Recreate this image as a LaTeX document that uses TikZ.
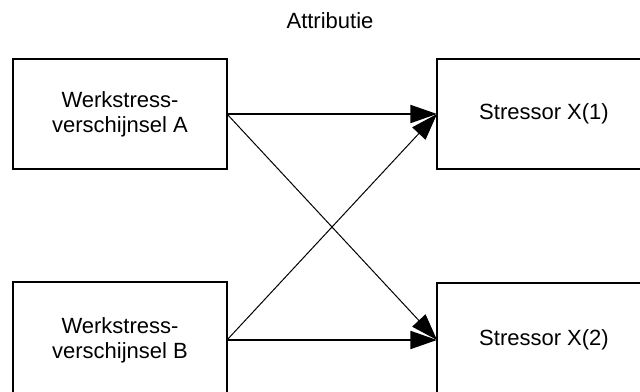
\documentclass[tikz,border=0pt]{standalone}
\usepackage{fontspec}
\setmainfont{Liberation Sans}
\usetikzlibrary{arrows.meta}
\tikzset{
  box/.style={draw=black, line width=1.6pt, rectangle, inner sep=0pt, outer sep=0pt,
    minimum width=160.5pt, align=center,
    font=\fontsize{16.5pt}{18.9pt}\selectfont},
  lbl/.style={inner sep=0pt, font=\fontsize{16.5pt}{18.9pt}\selectfont},
  thickarrow/.style={line width=1.5pt, -{Triangle[length=20pt,width=13.5pt]}},
  thinarrow/.style={line width=0.75pt, -{Triangle[length=20pt,width=13.5pt]}}
}
\begin{document}
\begin{tikzpicture}[x=0.75pt,y=-0.75pt]
\useasboundingbox (0,0) rectangle (640,392);
\fill[white] (0,0) rectangle (640,392);
\clip (0,0) rectangle (640,392);
\node[lbl] (title) at (330,21) {Attributie};
\node[box, minimum height=82.5pt] (A) at (120,114) {Werkstress-\\verschijnsel A};
\node[box, minimum height=87pt] (B) at (120,340) {Werkstress-\\verschijnsel B};
\node[box, minimum height=82.5pt] (X1) at (544,114) {Stressor X(1)};
\node[box, minimum height=85.5pt] (X2) at (544,340) {Stressor X(2)};
\draw[thickarrow] (A.east) -- (X1.west);
\draw[thinarrow] (A.east) -- (X2.west);
\draw[thinarrow] (B.east) -- (X1.west);
\draw[thickarrow] (B.east) -- (X2.west);
\end{tikzpicture}
\end{document}
